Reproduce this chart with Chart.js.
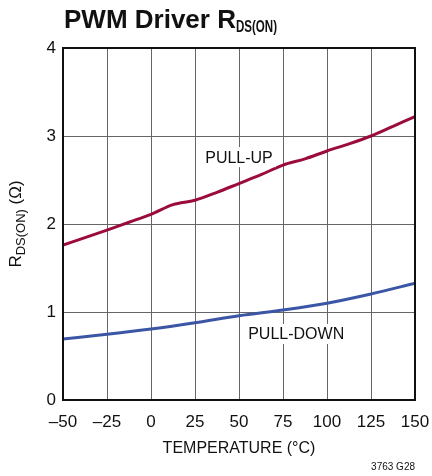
<!DOCTYPE html>
<html>
<head>
<meta charset="utf-8">
<script src="https://cdn.jsdelivr.net/npm/chart.js@4/dist/chart.umd.min.js"></script>
<style>
html,body{margin:0;padding:0;background:#fff;}
#wrap{width:432px;height:476px;position:relative;}
</style>
</head>
<body>
<div id="wrap"><canvas id="c" width="432" height="476"></canvas></div>
<script>
// ---- data ----
const pullUpTemps = [-50,-37.5,-25,-12.5,0,12.5,25,37.5,50,62.5,75,87.5,100,112.5,125,137.5,150];
const pullUpOhms  = [1.76,1.845,1.93,2.02,2.11,2.22,2.27,2.36,2.46,2.56,2.67,2.74,2.83,2.91,3.00,3.11,3.22];
const pullDownTemps = [-50,-25,0,25,50,75,100,125,150];
const pullDownOhms  = [0.693,0.747,0.807,0.878,0.958,1.023,1.10,1.205,1.326];
const xTicks = [-50,-25,0,25,50,75,100,125,150];
const yTicks = [0,1,2,3,4];
const seriesNames = ['PULL-UP','PULL-DOWN'];

const FONT = "'Liberation Sans Narrow','Arial Narrow','Liberation Sans',Arial,sans-serif";

function toPts(xs, ys){ return xs.map((x,i)=>({x:x,y:ys[i]})); }

const textPlugin = {
  id:'texts',
  afterDraw(chart){
    const ctx = chart.ctx;
    const ca = chart.chartArea;
    const xs = chart.scales.x, ys = chart.scales.y;
    ctx.save();
    ctx.fillStyle = '#111';
    ctx.textBaseline = 'alphabetic';
    // title
    ctx.textAlign = 'left';
    ctx.font = "bold 26px " + FONT;
    const t1 = 'PWM Driver R';
    ctx.fillText(t1, 64, 28);
    const w1 = ctx.measureText(t1).width;
    ctx.save();
    ctx.translate(64 + w1, 32);
    ctx.scale(0.68, 1);
    ctx.font = "bold 17px " + FONT;
    ctx.fillText('DS(ON)', 0, 0);
    ctx.restore();
    // x axis title
    ctx.textAlign = 'center';
    ctx.font = "16px " + FONT;
    ctx.fillText('TEMPERATURE (°C)', (ca.left+ca.right)/2, 453);
    // footnote
    ctx.textAlign = 'right';
    ctx.font = "10px " + FONT;
    ctx.fillText('3763 G28', 415, 470);
    // y axis title (rotated)
    ctx.save();
    ctx.translate(21, 224);
    ctx.rotate(-Math.PI/2);
    ctx.textAlign = 'left';
    const a = 'R', b = 'DS(ON)', c = ' (Ω)';
    ctx.font = "17px " + FONT; const wa = ctx.measureText(a).width;
    ctx.font = "13px " + FONT; const wb = ctx.measureText(b).width;
    ctx.font = "17px " + FONT; const wc = ctx.measureText(c).width;
    let x0 = -(wa+wb+wc)/2;
    ctx.font = "17px " + FONT; ctx.fillText(a, x0, 0);
    ctx.font = "13px " + FONT; ctx.fillText(b, x0+wa, 4);
    ctx.font = "17px " + FONT; ctx.fillText(c, x0+wa+wb, 0);
    ctx.restore();
    // in-plot series labels with white background
    ctx.font = "16px " + FONT;
    ctx.textAlign = 'center';
    ctx.textBaseline = 'middle';
    const labels = [
      {t:seriesNames[0], x:xs.getPixelForValue(50), y:ys.getPixelForValue(2.76)},
      {t:seriesNames[1], x:xs.getPixelForValue(82.5), y:ys.getPixelForValue(0.75)}
    ];
    labels.forEach(l=>{
      const w = ctx.measureText(l.t).width;
      ctx.fillStyle = '#fff';
      ctx.fillRect(l.x - w/2 - 3, l.y - 10, w + 6, 20);
      ctx.fillStyle = '#111';
      ctx.fillText(l.t, l.x, l.y+1);
    });
    ctx.restore();
  }
};

new Chart(document.getElementById('c'), {
  type:'line',
  data:{
    datasets:[
      {label:seriesNames[0], data:toPts(pullUpTemps,pullUpOhms), borderColor:'#9b0c3a', borderWidth:3,
       pointRadius:0, cubicInterpolationMode:'monotone', fill:false},
      {label:seriesNames[1], data:toPts(pullDownTemps,pullDownOhms), borderColor:'#3c56a6', borderWidth:3,
       pointRadius:0, cubicInterpolationMode:'monotone', fill:false}
    ]
  },
  options:{
    responsive:false,
    animation:false,
    devicePixelRatio:1,
    layout:{padding:{left:0,right:17,top:48,bottom:0}},
    plugins:{legend:{display:false}, tooltip:{enabled:false}, title:{display:false}},
    scales:{
      x:{
        type:'linear', min:-50, max:150,
        afterBuildTicks(s){ s.ticks = xTicks.map(v=>({value:v})); },
        afterFit(s){ s.height = 76; s.paddingLeft = 0; s.paddingRight = 0; },
        grid:{color:'#666', lineWidth:1, drawTicks:false},
        border:{color:'#111', width:2},
        ticks:{color:'#111', font:{family:FONT, size:17}, padding:12, maxRotation:0,
          callback:(v)=> v<0 ? '\u2013'+Math.abs(v) : String(v)}
      },
      y:{
        type:'linear', min:0, max:4,
        afterBuildTicks(s){ s.ticks = yTicks.map(v=>({value:v})); },
        afterFit(s){ s.width = 63; s.paddingTop = 0; s.paddingBottom = 0; },
        grid:{color:'#666', lineWidth:1, drawTicks:false},
        border:{color:'#111', width:2},
        ticks:{color:'#111', font:{family:FONT, size:17}, padding:7}
      }
    }
  },
  plugins:[textPlugin, {
    id:'frame',
    afterDatasetsDraw(chart){
      const ctx = chart.ctx, ca = chart.chartArea;
      ctx.save();
      ctx.strokeStyle = '#111'; ctx.lineWidth = 2;
      ctx.strokeRect(ca.left, ca.top, ca.right-ca.left, ca.bottom-ca.top);
      ctx.restore();
    }
  }]
});
</script>
</body>
</html>
